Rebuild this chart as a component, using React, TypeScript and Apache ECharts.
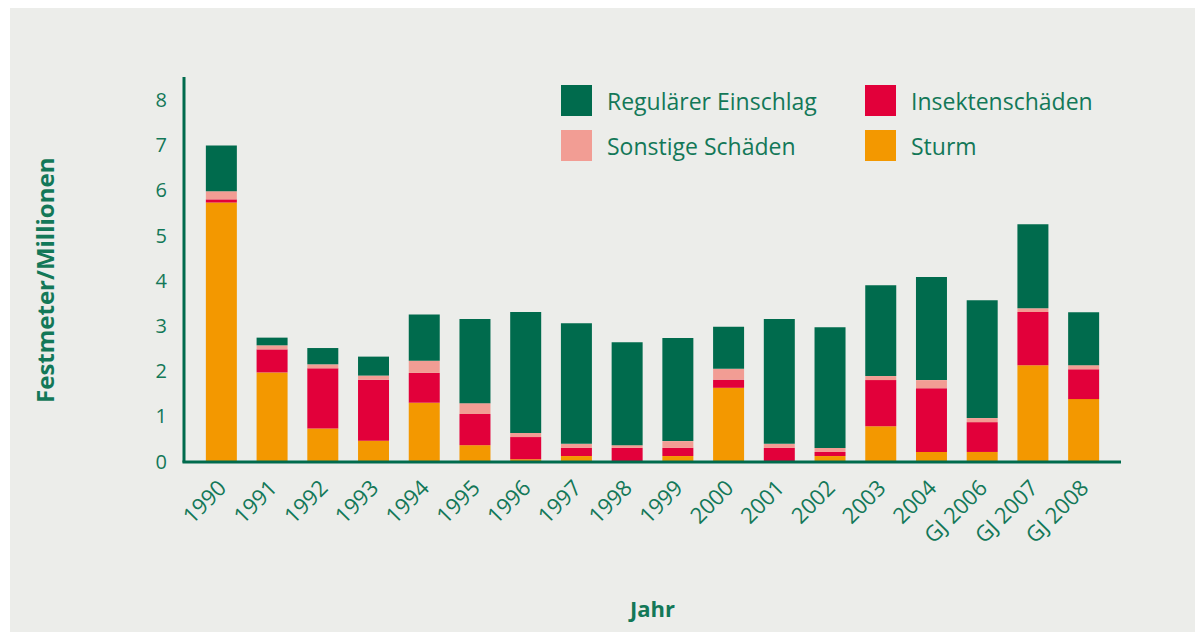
import React, { useEffect, useRef } from "react";
import * as echarts from "echarts";

const categories = ["1990","1991","1992","1993","1994","1995","1996","1997","1998","1999","2000","2001","2002","2003","2004","GJ 2006","GJ 2007","GJ 2008"];
const sturm = [5.72,1.96,0.72,0.45,1.29,0.35,0.04,0.11,0,0.11,1.62,0,0.11,0.77,0.2,0.2,2.12,1.37];
const insekten = [0.07,0.51,1.33,1.35,0.66,0.69,0.49,0.18,0.29,0.18,0.18,0.29,0.09,1.02,1.41,0.66,1.18,0.66];
const sonstige = [0.18,0.09,0.09,0.09,0.27,0.24,0.09,0.09,0.06,0.15,0.24,0.09,0.09,0.09,0.18,0.09,0.08,0.09];
const regulaer = [1.01,0.17,0.36,0.42,1.02,1.86,2.68,2.67,2.28,2.28,0.93,2.76,2.67,2.01,2.28,2.61,1.86,1.17];
const yTicks = [0, 8, 1];

const GREEN = "#006B4D";
const RED = "#E2003A";
const PINK = "#F29D94";
const ORANGE = "#F39800";
const TEXT = "#137858";
const BG = "#ECEDEA";
const FONT = "'Open Sans', 'Noto Sans', sans-serif";

export default function App() {
  const ref = useRef<HTMLDivElement>(null);
  useEffect(() => {
    if (!ref.current) return;
    const chart = echarts.init(ref.current, undefined, { renderer: "svg" });
    const bar = (name: string, data: number[], color: string) => ({
      name,
      type: "bar",
      stack: "total",
      data,
      barWidth: 31,
      itemStyle: { color },
      emphasis: { disabled: true },
    });
    const legendBase = {
      orient: "vertical",
      icon: "rect",
      itemWidth: 31,
      itemHeight: 31,
      itemGap: 14,
      padding: 0,
      selectedMode: false,
      textStyle: { color: TEXT, fontSize: 23, fontFamily: FONT, padding: [0, 0, 0, 10] },
    };
    chart.setOption({
      animation: false,
      backgroundColor: "#ffffff",
      textStyle: { fontFamily: FONT },
      graphic: [
        { type: "rect", z: -10, silent: true, shape: { x: 10, y: 8, width: 1185, height: 624 }, style: { fill: BG } },
        { type: "line", z: 100, silent: true, shape: { x1: 184, y1: 77, x2: 184, y2: 462.5 }, style: { stroke: GREEN, lineWidth: 3 } },
        { type: "line", z: 100, silent: true, shape: { x1: 182.5, y1: 462, x2: 1121, y2: 462 }, style: { stroke: GREEN, lineWidth: 3 } },
      ],
      legend: [
        { ...legendBase, left: 561, top: 85, data: ["Regulärer Einschlag", "Sonstige Schäden"] },
        { ...legendBase, left: 865, top: 85, data: ["Insektenschäden", "Sturm"] },
      ],
      grid: { left: 196, right: 94, top: 99.5, bottom: 176 },
      xAxis: {
        type: "category",
        data: categories,
        axisLine: { show: false },
        axisTick: { show: false },
        axisLabel: { rotate: 45, margin: 22, color: TEXT, fontSize: 22, fontFamily: FONT, interval: 0 },
        name: "Jahr",
        nameLocation: "middle",
        nameGap: 136,
        nameTextStyle: { color: TEXT, fontSize: 22, fontWeight: "bold", fontFamily: FONT },
      },
      yAxis: {
        type: "value",
        min: yTicks[0],
        max: yTicks[1],
        interval: yTicks[2],
        axisLine: { show: false },
        axisTick: { show: false },
        splitLine: { show: false },
        axisLabel: { margin: 29, color: TEXT, fontSize: 20, fontFamily: FONT },
        name: "Festmeter/Millionen",
        nameLocation: "middle",
        nameRotate: 90,
        nameGap: 140,
        nameTextStyle: { color: TEXT, fontSize: 24, fontWeight: "bold", fontFamily: FONT },
      },
      series: [
        bar("Sturm", sturm, ORANGE),
        bar("Insektenschäden", insekten, RED),
        bar("Sonstige Schäden", sonstige, PINK),
        bar("Regulärer Einschlag", regulaer, GREEN),
      ],
    });
    return () => chart.dispose();
  }, []);
  return <div ref={ref} style={{ position: "fixed", left: 0, top: 0, width: 1203, height: 637 }} />;
}
